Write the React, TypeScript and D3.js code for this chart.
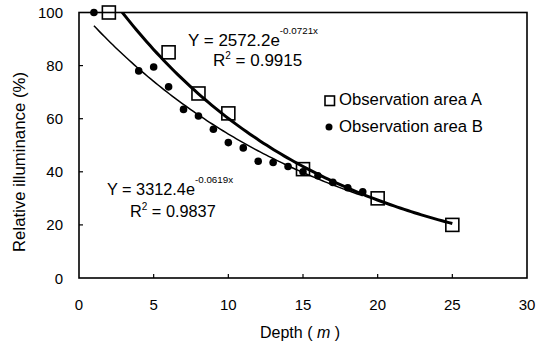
import { useEffect, useRef } from 'react'
import * as d3 from 'd3'

interface Point { x: number; y: number }

const W = 544, H = 351
const FONT = '"Liberation Sans", Arial, sans-serif'

// Observation area A (open squares)
const depthA = [2, 6, 8, 10, 15, 20, 25]
const illumA = [100, 85, 69.5, 62, 41, 30, 20]
// Observation area B (filled dots)
const depthB = [1, 4, 5, 6, 7, 8, 9, 10, 11, 12, 13, 14, 15, 16, 17, 18, 19]
const illumB = [100, 78, 79.5, 72, 63.5, 61, 56, 51, 49, 44, 43.5, 42, 40, 38.5, 36, 34, 32.5]

const xTicks = [0, 5, 10, 15, 20, 25, 30]
const yTicks = [0, 20, 40, 60, 80, 100]

// exponential trendline, least squares on ln(y) (same as Excel)
function expFit(pts: Point[]): { a: number; b: number } {
  const n = pts.length
  const sx = d3.sum(pts, p => p.x)
  const sy = d3.sum(pts, p => Math.log(p.y))
  const sxy = d3.sum(pts, p => p.x * Math.log(p.y))
  const sx2 = d3.sum(pts, p => p.x * p.x)
  const b = (n * sxy - sx * sy) / (n * sx2 - sx * sx)
  const a = Math.exp((sy - b * sx) / n)
  return { a, b }
}

const ptsA: Point[] = depthA.map((x, i) => ({ x, y: illumA[i] }))
const ptsB: Point[] = depthB.map((x, i) => ({ x, y: illumB[i] }))

export default function App() {
  const ref = useRef<SVGSVGElement>(null)

  useEffect(() => {
    const svg = d3.select(ref.current)
    svg.selectAll('*').remove()

    const x = d3.scaleLinear().domain([0, 30]).range([79, 527])
    const y = d3.scaleLinear().domain([0, 100]).range([278, 12.5])
    const [x0, x1] = x.range()
    const [yb, yt] = y.range()

    svg.append('rect').attr('width', W).attr('height', H).attr('fill', '#fff')

    svg.append('clipPath').attr('id', 'plot')
      .append('rect').attr('x', x0).attr('y', yt).attr('width', x1 - x0).attr('height', yb - yt)

    // frame
    svg.append('rect').attr('x', x0).attr('y', yt).attr('width', x1 - x0).attr('height', yb - yt)
      .attr('fill', 'none').attr('stroke', '#000').attr('stroke-width', 1.6)

    // ticks (inside)
    xTicks.slice(1, -1).forEach(t => svg.append('line')
      .attr('x1', x(t)).attr('x2', x(t)).attr('y1', yb).attr('y2', yb - 4)
      .attr('stroke', '#000').attr('stroke-width', 1.2))
    yTicks.slice(1, -1).forEach(t => svg.append('line')
      .attr('x1', x0).attr('x2', x0 + 4).attr('y1', y(t)).attr('y2', y(t))
      .attr('stroke', '#000').attr('stroke-width', 1.2))

    xTicks.forEach(t => svg.append('text')
      .attr('x', x(t)).attr('y', 310).attr('text-anchor', 'middle')
      .attr('font-family', FONT).attr('font-size', 15).text(t))
    yTicks.forEach(t => svg.append('text')
      .attr('x', 63).attr('y', y(t) + 5.5).attr('text-anchor', 'end')
      .attr('font-family', FONT).attr('font-size', 15).text(t))

    // axis titles
    const xt = svg.append('text').attr('x', 300).attr('y', 338).attr('text-anchor', 'middle')
      .attr('font-family', FONT).attr('font-size', 16)
    xt.append('tspan').text('Depth ( ')
    xt.append('tspan').attr('font-style', 'italic').text('m')
    xt.append('tspan').text(' )')
    svg.append('text').attr('transform', 'translate(25,162) rotate(-90)').attr('text-anchor', 'middle')
      .attr('font-family', FONT).attr('font-size', 16.8).text('Relative illuminance (%)')

    // trendlines
    const trend = (pts: Point[], w: number) => {
      const { a, b } = expFit(pts)
      const [lo, hi] = d3.extent(pts, p => p.x) as [number, number]
      const xs = d3.range(lo, hi + 0.001, (hi - lo) / 100)
      svg.append('path').attr('clip-path', 'url(#plot)')
        .attr('d', d3.line<number>().x(v => x(v)).y(v => y(a * Math.exp(b * v)))(xs))
        .attr('fill', 'none').attr('stroke', '#000').attr('stroke-width', w)
    }
    trend(ptsA, 3)
    trend(ptsB, 1.5)

    // markers
    ptsB.forEach(p => svg.append('circle').attr('cx', x(p.x)).attr('cy', y(p.y)).attr('r', 3.8).attr('fill', '#000'))
    ptsA.forEach(p => svg.append('rect')
      .attr('x', x(p.x) - 6.5).attr('y', y(p.y) - 6.5).attr('width', 13).attr('height', 13)
      .attr('fill', 'none').attr('stroke', '#000').attr('stroke-width', 1.6))

    // equations
    const eq = (tx: number, ty: number, fs: number, a: string, e: string, r2: string, rx: number, ry: number) => {
      const t = svg.append('text').attr('x', tx).attr('y', ty).attr('font-family', FONT).attr('font-size', fs)
      t.append('tspan').text(a)
      t.append('tspan').attr('font-size', 9.8).attr('dy', -12.5).text(e)
      const r = svg.append('text').attr('x', rx).attr('y', ry).attr('font-family', FONT).attr('font-size', fs)
      r.append('tspan').text('R')
      r.append('tspan').attr('font-size', 10).attr('dy', -7).text('2')
      r.append('tspan').attr('dy', 7).text(' = ' + r2)
    }
    eq(188, 46, 17, 'Y = 2572.2e', '-0.0721x', '0.9915', 213, 66)
    eq(107, 195, 16.3, 'Y = 3312.4e', '-0.0619x', '0.9837', 130, 217)

    // legend
    svg.append('rect').attr('x', 325).attr('y', 96).attr('width', 9.5).attr('height', 9.5)
      .attr('fill', 'none').attr('stroke', '#000').attr('stroke-width', 1.6)
    svg.append('text').attr('x', 339).attr('y', 105).attr('font-family', FONT).attr('font-size', 16.7)
      .text('Observation area A')
    svg.append('circle').attr('cx', 329).attr('cy', 127).attr('r', 3.5).attr('fill', '#000')
    svg.append('text').attr('x', 339).attr('y', 132).attr('font-family', FONT).attr('font-size', 16.7)
      .text('Observation area B')
  }, [])

  return (
    <div style={{ position: 'fixed', left: 0, top: 0 }}>
      <svg ref={ref} width={W} height={H} style={{ display: 'block' }} />
    </div>
  )
}
